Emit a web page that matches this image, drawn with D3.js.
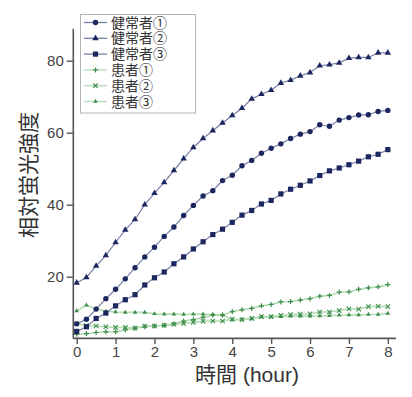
<!DOCTYPE html>
<html><head><meta charset="utf-8">
<script src="https://cdn.jsdelivr.net/npm/d3@7"></script>
<style>
html,body{margin:0;padding:0;background:#fff;}
svg{display:block;font-family:"Noto Sans CJK JP","Noto Sans",sans-serif;}
</style></head>
<body><svg id="c" width="412" height="397"></svg>
<script>
const times = [0,0.25,0.5,0.75,1,1.25,1.5,1.75,2,2.25,2.5,2.75,3,3.25,3.5,3.75,4,4.25,4.5,4.75,5,5.25,5.5,5.75,6,6.25,6.5,6.75,7,7.25,7.5,7.75,8];
const seriesNames = ["健常者①","健常者②","健常者③","患者①","患者②","患者③"];
const healthy1 = [6.9,8.2,11.0,13.9,16.5,19.4,22.5,25.5,28.2,31.2,33.8,37.0,39.8,42.4,43.9,46.7,48.2,50.8,52.3,54.3,55.7,56.9,58.4,59.6,60.3,62.2,61.8,63.5,64.2,64.9,65.0,65.9,66.2];
const healthy2 = [18.3,19.8,23.0,25.9,29.5,33.0,35.9,40.0,43.2,46.2,49.5,52.8,55.9,58.4,60.6,62.7,64.8,66.8,69.4,70.7,71.8,73.8,74.6,75.8,76.7,78.6,78.9,79.4,80.7,80.9,80.9,82.2,82.2];
const healthy3 = [4.8,6.1,8.4,9.9,11.9,13.6,15.0,17.7,19.7,21.3,23.6,25.5,27.7,29.7,31.7,33.2,35.1,37.1,38.4,40.2,41.2,43.0,44.3,45.4,46.6,48.1,49.4,50.2,51.1,52.1,53.3,54.0,55.3];
const patient1 = [4.0,4.2,4.5,4.7,4.7,5.2,5.7,6.1,6.3,6.5,6.9,7.7,8.1,8.7,9.3,9.3,10.3,10.8,11.2,11.9,12.3,13.0,13.1,13.5,13.9,14.6,14.8,15.7,15.8,16.5,16.9,17.2,17.8];
const patient2 = [7.0,6.4,6.3,6.1,5.9,5.9,5.7,6.3,6.3,6.5,6.8,7.0,7.3,7.6,7.7,7.7,8.2,8.1,8.4,8.9,8.9,9.3,9.5,9.6,9.7,10.2,10.2,10.6,11.1,11.0,11.7,11.8,11.7];
const patient3 = [10.5,12.1,11.1,10.4,10.2,10.1,10.1,10.1,9.7,9.6,9.6,9.5,9.6,9.6,9.5,9.4,8.0,8.1,8.3,8.8,8.8,8.9,9.0,9.0,9.0,9.1,9.2,9.3,9.4,9.4,9.5,9.5,9.8];
const xTicks = [0,1,2,3,4,5,6,7,8];
const yTicks = [20,40,60,80];
const xTitle = "時間 (hour)";
const yTitle = "相対蛍光強度";

const svg = d3.select("#c");
const x = d3.scaleLinear().domain([-0.1, 8.2]).range([72.8, 395.6]);
const y = d3.scaleLinear().domain([3, 89]).range([337.9, 28.3]);

const navy = "#1c2760", navyLine = "#7a7fa6";
const green = "#3d8c4c", greenLine = "#b2dcb2";

const series = [
  {name: seriesNames[0], data: healthy1, m: "circle", c: navy, lc: navyLine},
  {name: seriesNames[1], data: healthy2, m: "triangle", c: navy, lc: navyLine},
  {name: seriesNames[2], data: healthy3, m: "square", c: navy, lc: navyLine},
  {name: seriesNames[3], data: patient1, m: "plus", c: green, lc: greenLine},
  {name: seriesNames[4], data: patient2, m: "x", c: green, lc: greenLine},
  {name: seriesNames[5], data: patient3, m: "tri2", c: green, lc: greenLine}
];

function marker(g, type, cx, cy, col) {
  if (type === "circle") g.append("circle").attr("cx", cx).attr("cy", cy).attr("r", 2.7).attr("fill", col);
  else if (type === "square") g.append("rect").attr("x", cx-2.6).attr("y", cy-2.6).attr("width", 5.2).attr("height", 5.2).attr("fill", col);
  else if (type === "triangle") g.append("path").attr("d", d3.symbol(d3.symbolTriangle, 18)()).attr("transform", `translate(${cx},${cy})`).attr("fill", col);
  else if (type === "tri2") g.append("path").attr("d", d3.symbol(d3.symbolTriangle, 9)()).attr("transform", `translate(${cx},${cy})`).attr("fill", col);
  else if (type === "plus") g.append("path").attr("d", `M${cx-2.5},${cy}H${cx+2.5}M${cx},${cy-2.5}V${cy+2.5}`).attr("stroke", col).attr("stroke-width", 1.2);
  else if (type === "x") g.append("path").attr("d", `M${cx-2.2},${cy-2.2}L${cx+2.2},${cy+2.2}M${cx-2.2},${cy+2.2}L${cx+2.2},${cy-2.2}`).attr("stroke", col).attr("stroke-width", 1.1);
}

const line = d3.line().x((d,i) => x(times[i])).y(d => y(d));
const plot = svg.append("g");
[3,4,5,0,1,2].forEach(k => {
  const s = series[k];
  plot.append("path").attr("d", line(s.data)).attr("fill", "none").attr("stroke", s.lc).attr("stroke-width", k>=3?1.6:1.2);
});
[3,4,5,0,1,2].forEach(k => {
  const s = series[k];
  const g = plot.append("g");
  s.data.forEach((v,i) => marker(g, s.m, x(times[i]), y(v), s.c));
});

const axCol = "#555";
const xAxis = svg.append("g").attr("transform", `translate(0,${y(3)})`)
  .call(d3.axisBottom(x).tickValues(xTicks).tickSize(6).tickSizeOuter(0).tickPadding(2).tickFormat(d3.format("d")));
const yAxis = svg.append("g").attr("transform", `translate(${x(-0.1)},0)`)
  .call(d3.axisLeft(y).tickValues(yTicks).tickSize(6).tickSizeOuter(0).tickPadding(3).tickFormat(d3.format("d")));
[xAxis, yAxis].forEach(a => {
  a.select(".domain").attr("stroke", axCol).attr("stroke-width", 1.6);
  a.selectAll(".tick line").attr("stroke", axCol).attr("stroke-width", 1.4);
  a.selectAll(".tick text").attr("fill", "#444").style("font-size", "15px").style("font-family", "Liberation Sans, Arial, sans-serif");
});

svg.append("text").attr("x", 247).attr("y", 382).attr("text-anchor", "middle")
  .style("font-size", "21px").style("font-family", "'Liberation Sans','Noto Sans CJK JP',sans-serif")
  .attr("fill", "#333").text(xTitle);
svg.append("text").attr("transform", "translate(36,175) rotate(-90)").attr("text-anchor", "middle")
  .style("font-size", "21px").attr("fill", "#333").text(yTitle);

const lg = svg.append("g");
lg.append("rect").attr("x", 80.5).attr("y", 14.5).attr("width", 115).attr("height", 98.5)
  .attr("fill", "#fff").attr("stroke", "#b5b5b5").attr("stroke-width", 1);
series.forEach((s, i) => {
  const cy = 22.5 + i * 15.8;
  lg.append("line").attr("x1", 84).attr("x2", 107).attr("y1", cy).attr("y2", cy).attr("stroke", s.lc).attr("stroke-width", 1.3);
  marker(lg, s.m, 95.5, cy, s.c);
  lg.append("text").attr("x", 111).attr("y", cy).attr("dy", "0.36em")
    .style("font-size", "14px").style("font-family", "'Liberation Sans','Noto Sans CJK JP',sans-serif")
    .attr("fill", "#333").text(s.name);
});
</script></body></html>
